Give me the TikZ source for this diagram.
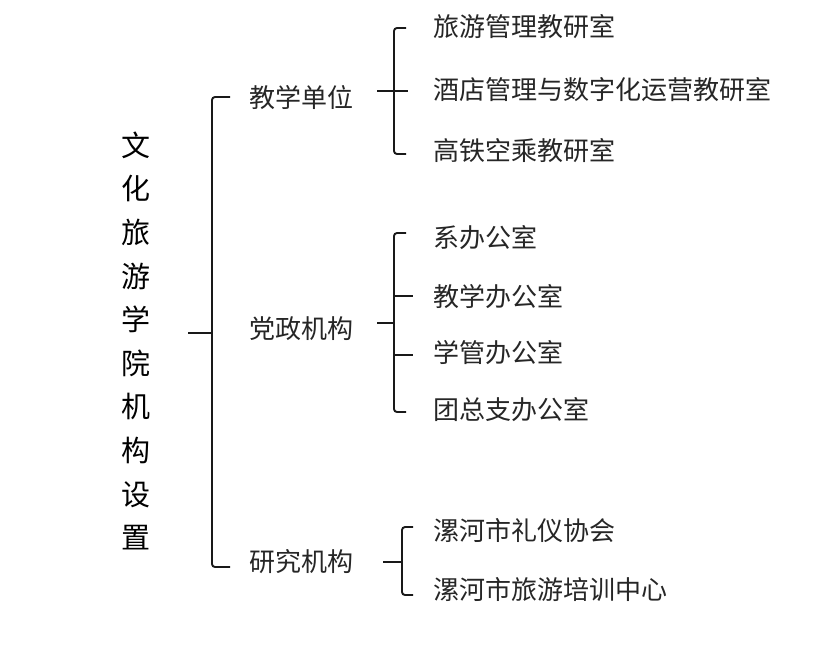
\documentclass[tikz,border=0pt]{standalone}
\usepackage{fontspec}
\setmainfont{Noto Sans CJK SC}
\begin{document}
\begin{tikzpicture}[x=1pt,y=-1pt,
  brk/.style={line width=1.9pt,black!90,rounded corners=3pt},
  lbl/.style={anchor=west,inner sep=0pt,font=\fontsize{26}{26}\selectfont,text=black!85},
  ttl/.style={inner sep=0pt,align=center,font=\fontsize{29}{43.6}\selectfont,text=black}]
\useasboundingbox (0,0) rectangle (832,649);
% title
\node[ttl] (title) at (136,341) {文\\化\\旅\\游\\学\\院\\机\\构\\设\\置};
% level 1
\node[lbl] (a) at (249,98) {教学单位};
\node[lbl] (b) at (249,329) {党政机构};
\node[lbl] (c) at (249,562) {研究机构};
% level 2
\node[lbl] (a1) at (433,27) {旅游管理教研室};
\node[lbl] (a2) at (433,90) {酒店管理与数字化运营教研室};
\node[lbl] (a3) at (433,151) {高铁空乘教研室};
\node[lbl] (b1) at (433,238) {系办公室};
\node[lbl] (b2) at (433,297) {教学办公室};
\node[lbl] (b3) at (433,353) {学管办公室};
\node[lbl] (b4) at (433,410) {团总支办公室};
\node[lbl] (c1) at (433,531) {漯河市礼仪协会};
\node[lbl] (c2) at (433,590) {漯河市旅游培训中心};
% main bracket
\coordinate (m0) at (188,333);
\coordinate (m1) at (212,333);
\coordinate (mt) at (230,97);
\coordinate (mb) at (230,567);
\draw[brk] (mt) -- (212,97) -- (212,567) -- (mb);
\draw[brk] (m0) -- (m1);
% bracket a
\coordinate (at) at (406,28);
\coordinate (ab) at (406,154);
\coordinate (a0) at (377,91);
\coordinate (ae) at (408,91);
\draw[brk] (at) -- (394,28) -- (394,154) -- (ab);
\draw[brk] (a0) -- (ae);
% bracket b
\coordinate (bt) at (406,233);
\coordinate (bb) at (406,412);
\coordinate (b0) at (377,323);
\coordinate (bm) at (394,323);
\draw[brk] (bt) -- (394,233) -- (394,412) -- (bb);
\draw[brk] (b0) -- (bm);
\draw[brk] (394,296) -- (413,296);
\draw[brk] (394,355) -- (413,355);
% bracket c
\coordinate (ct) at (413,527);
\coordinate (cb) at (413,595);
\coordinate (c0) at (383,562);
\coordinate (cm) at (402,562);
\draw[brk] (ct) -- (402,527) -- (402,595) -- (cb);
\draw[brk] (c0) -- (cm);
\end{tikzpicture}
\end{document}
